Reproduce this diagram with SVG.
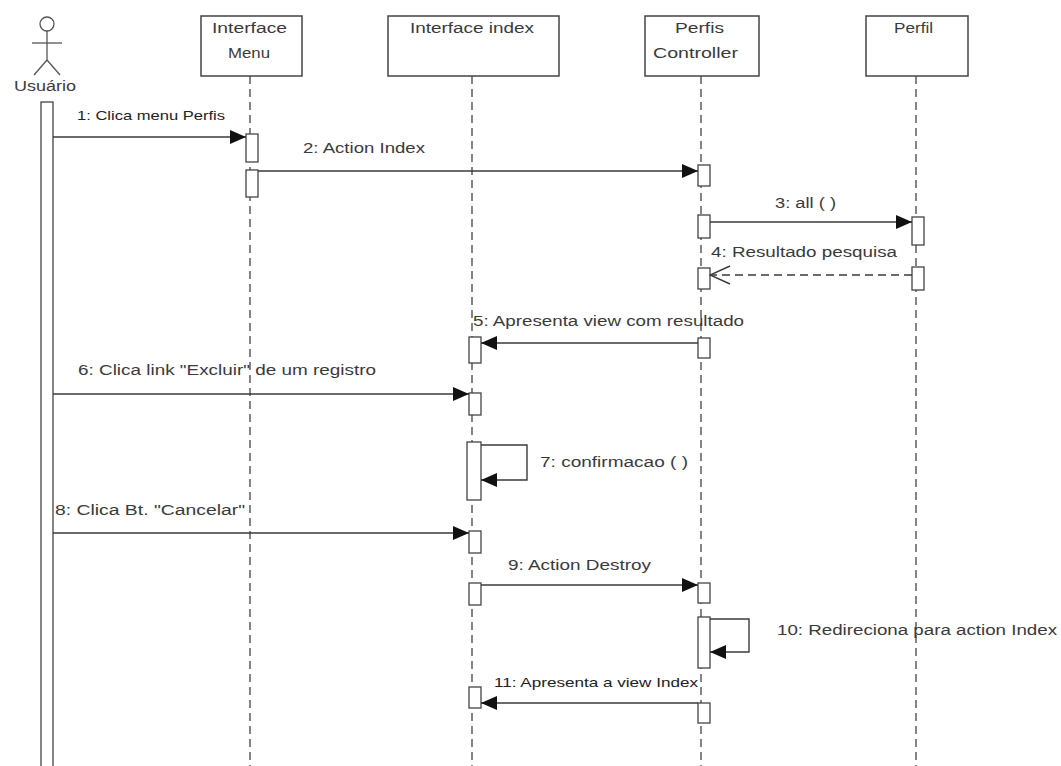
<svg xmlns="http://www.w3.org/2000/svg" width="1061" height="766" viewBox="0 0 1061 766">
<defs>
<style>
text{font-family:"Liberation Sans",Arial,sans-serif;fill:#3a3a3a;font-size:14px}
.box{fill:#fff;stroke:#444;stroke-width:1.5}
.life{stroke:#444;stroke-width:1.3;stroke-dasharray:8 5;fill:none}
.act{fill:#fff;stroke:#444;stroke-width:1.3}
.msg{stroke:#3a3a3a;stroke-width:1.4;fill:none}
.ret{stroke:#3a3a3a;stroke-width:1.4;fill:none;stroke-dasharray:8 5}
.lbl{font-size:13px}
</style>
<marker id="fa" markerWidth="16" markerHeight="14" refX="16" refY="7" orient="auto" markerUnits="userSpaceOnUse">
<path d="M0,0 L16,7 L0,14 Z" fill="#111"/>
</marker>
<marker id="oa" markerWidth="22" markerHeight="20" refX="21" refY="10" orient="auto" markerUnits="userSpaceOnUse">
<path d="M1,1 L21,10 L1,19" fill="none" stroke="#3a3a3a" stroke-width="1.4"/>
</marker>
</defs>
<rect width="1061" height="766" fill="#fff"/>

<g id="usuario">
<circle cx="47" cy="24" r="7" fill="none" stroke="#555" stroke-width="1.3"/>
<line x1="47" y1="31" x2="47" y2="60" stroke="#555" stroke-width="1.3"/>
<line x1="32" y1="43" x2="62" y2="43" stroke="#555" stroke-width="1.3"/>
<line x1="47" y1="60" x2="34" y2="75" stroke="#555" stroke-width="1.3"/>
<line x1="47" y1="60" x2="60" y2="75" stroke="#555" stroke-width="1.3"/>
<text x="14" y="91" textLength="62" lengthAdjust="spacingAndGlyphs">Usuário</text>
<rect class="act" x="41" y="102" width="12" height="680"/>
</g>

<g id="interface-menu">
<rect class="box" x="201" y="16" width="101" height="60"/>
<text x="212" y="33" textLength="75" lengthAdjust="spacingAndGlyphs">Interface</text>
<text x="228" y="58" textLength="42" lengthAdjust="spacingAndGlyphs">Menu</text>
<line class="life" x1="250" y1="76" x2="250" y2="766"/>
<rect class="act" x="246" y="134" width="12" height="28"/>
<rect class="act" x="246" y="170" width="12" height="27"/>
</g>

<g id="interface-index">
<rect class="box" x="388" y="16" width="171" height="60"/>
<text x="410" y="33" textLength="124" lengthAdjust="spacingAndGlyphs">Interface index</text>
<line class="life" x1="472" y1="76" x2="472" y2="766"/>
<rect class="act" x="469" y="337" width="12" height="26"/>
<rect class="act" x="469" y="393" width="12" height="22"/>
<rect class="act" x="467" y="442" width="14" height="58"/>
<rect class="act" x="469" y="531" width="12" height="22"/>
<rect class="act" x="469" y="583" width="12" height="22"/>
<rect class="act" x="469" y="687" width="12" height="21"/>
</g>

<g id="perfis-controller">
<rect class="box" x="645" y="16" width="114" height="60"/>
<text x="675" y="33" textLength="49" lengthAdjust="spacingAndGlyphs">Perfis</text>
<text x="653" y="58" textLength="85" lengthAdjust="spacingAndGlyphs">Controller</text>
<line class="life" x1="701" y1="76" x2="701" y2="766"/>
<rect class="act" x="698" y="165" width="12" height="21"/>
<rect class="act" x="698" y="215" width="12" height="23"/>
<rect class="act" x="698" y="268" width="12" height="21"/>
<rect class="act" x="698" y="338" width="12" height="20"/>
<rect class="act" x="698" y="583" width="12" height="20"/>
<rect class="act" x="698" y="617" width="12" height="51"/>
<rect class="act" x="698" y="703" width="12" height="20"/>
</g>

<g id="perfil">
<rect class="box" x="866" y="16" width="102" height="60"/>
<text x="894" y="33" textLength="39" lengthAdjust="spacingAndGlyphs">Perfil</text>
<line class="life" x1="916" y1="76" x2="916" y2="766"/>
<rect class="act" x="912" y="217" width="12" height="28"/>
<rect class="act" x="912" y="267" width="12" height="23"/>
</g>

<g id="connectors">
<line class="msg" x1="53" y1="137" x2="246" y2="137" marker-end="url(#fa)"/>
<text class="lbl" x="77" y="120" textLength="148" lengthAdjust="spacingAndGlyphs" style="fill:#222">1: Clica menu Perfis</text>

<line class="msg" x1="258" y1="171" x2="698" y2="171" marker-end="url(#fa)"/>
<text x="303" y="153" textLength="122" lengthAdjust="spacingAndGlyphs">2: Action Index</text>

<line class="msg" x1="710" y1="222" x2="912" y2="222" marker-end="url(#fa)"/>
<text x="775" y="208" textLength="61" lengthAdjust="spacingAndGlyphs">3: all ( )</text>

<line class="ret" x1="912" y1="275" x2="710" y2="275" marker-end="url(#oa)"/>
<text x="711" y="257" textLength="186" lengthAdjust="spacingAndGlyphs">4: Resultado pesquisa</text>

<line class="msg" x1="698" y1="343" x2="481" y2="343" marker-end="url(#fa)"/>
<text x="473" y="326" textLength="271" lengthAdjust="spacingAndGlyphs">5: Apresenta view com resultado</text>

<line class="msg" x1="53" y1="394" x2="469" y2="394" marker-end="url(#fa)"/>
<text x="78" y="375" textLength="298" lengthAdjust="spacingAndGlyphs">6: Clica link "Excluir" de um registro</text>

<polyline class="msg" points="481,445 527,445 527,480 481,480" marker-end="url(#fa)"/>
<text x="540" y="467" textLength="148" lengthAdjust="spacingAndGlyphs">7: confirmacao ( )</text>

<line class="msg" x1="53" y1="533" x2="469" y2="533" marker-end="url(#fa)"/>
<text x="55" y="515" textLength="190" lengthAdjust="spacingAndGlyphs">8: Clica Bt. "Cancelar"</text>

<line class="msg" x1="481" y1="585" x2="698" y2="585" marker-end="url(#fa)"/>
<text x="508" y="570" textLength="143" lengthAdjust="spacingAndGlyphs">9: Action Destroy</text>

<polyline class="msg" points="710,619 749,619 749,652 710,652" marker-end="url(#fa)"/>
<text x="777" y="635" textLength="280" lengthAdjust="spacingAndGlyphs">10: Redireciona para action Index</text>

<line class="msg" x1="698" y1="703" x2="481" y2="703" marker-end="url(#fa)"/>
<text class="lbl" x="494" y="687" textLength="204" lengthAdjust="spacingAndGlyphs" style="fill:#222">11: Apresenta a view Index</text>
</g>
</svg>
